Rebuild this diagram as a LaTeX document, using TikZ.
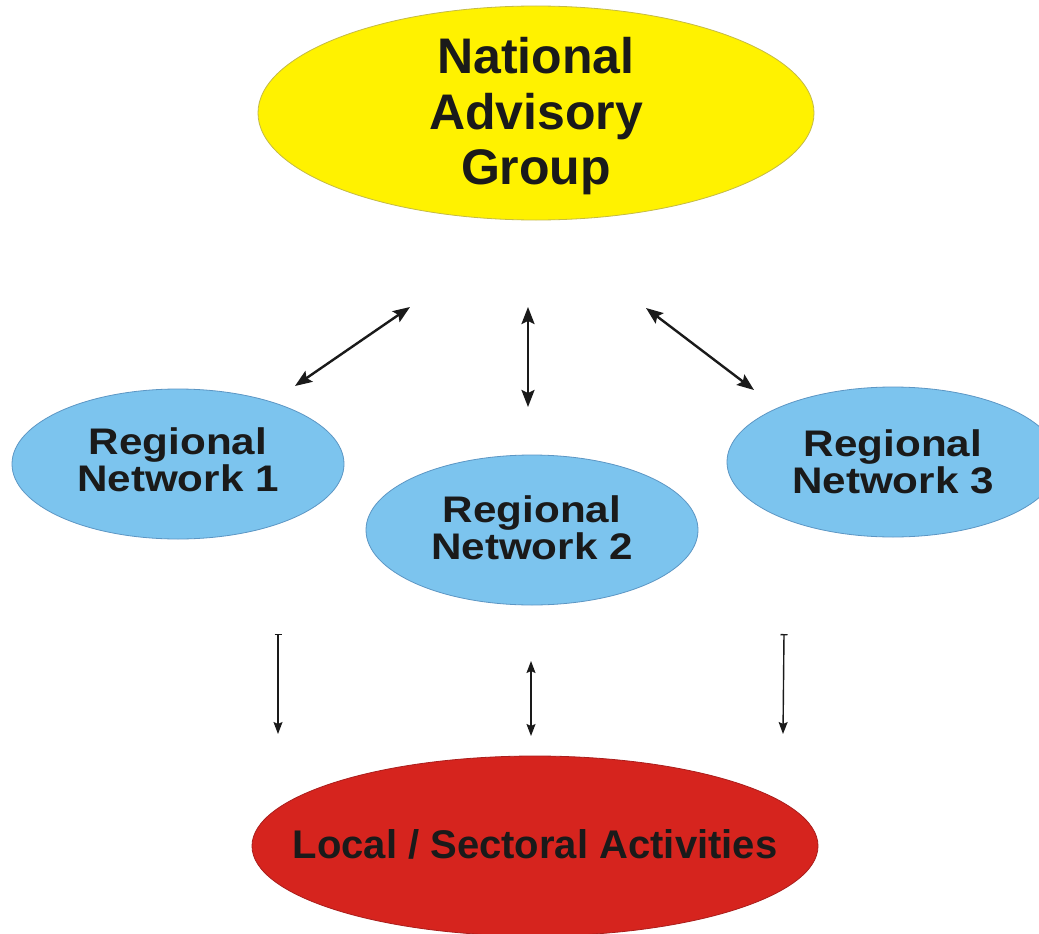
\documentclass[tikz,border=0pt]{standalone}
\usepackage{fontspec}
\setmainfont{Liberation Sans}
\newfontfamily\widefont[FakeStretch=1.14]{Liberation Sans}
\usetikzlibrary{shapes.geometric,arrows.meta}
\definecolor{nagyellow}{RGB}{255,242,0}
\definecolor{nagyellowline}{RGB}{196,186,70}
\definecolor{regblue}{RGB}{124,196,238}
\definecolor{regblueline}{RGB}{92,150,196}
\definecolor{locred}{RGB}{214,36,30}
\definecolor{locredline}{RGB}{170,30,28}
\definecolor{txt}{RGB}{26,26,26}
\tikzset{
  oval/.style={ellipse, inner sep=0pt, line width=0.8pt, text=txt, align=center},
  natoval/.style={oval, fill=nagyellow, draw=nagyellowline, minimum width=556pt, minimum height=214pt,
    inner ysep=-30pt, font=\bfseries\fontsize{50}{55.5}\selectfont},
  regoval/.style={oval, fill=regblue, draw=regblueline, minimum width=332pt, minimum height=150pt,
    font=\widefont\bfseries\fontsize{37}{37}\selectfont},
  locoval/.style={oval, fill=locred, draw=locredline, minimum width=566pt, minimum height=180pt,
    inner xsep=-60pt, font=\bfseries\fontsize{40}{40}\selectfont},
  bigarrow/.style={line width=2.4pt, draw=txt,
    {Stealth[length=17pt,width=13pt,inset=3pt]}-{Stealth[length=17pt,width=13pt,inset=3pt]}},
  smallarrow/.style={line width=1.4pt, draw=txt,
    {Stealth[length=12pt,width=9pt,inset=2pt]}-{Stealth[length=12pt,width=9pt,inset=2pt]}},
  teearrow/.style={line width=1.4pt, draw=txt,
    {Bar[width=7pt,line width=1.4pt]}-{Stealth[length=12pt,width=9pt,inset=2pt]}}
}
\begin{document}
\begin{tikzpicture}[x=1pt,y=-1pt]
\path[use as bounding box] (0,0) rectangle (1039,934);
\clip (0,0) rectangle (1039,934);
\fill[white] (0,0) rectangle (1039,934);

\node[natoval] (nag) at (536,113) {\rule{0pt}{43pt}National\\Advisory\\Group};
\node[regoval] (rn1) at (178,464) {Regional\\Network 1\rule[-8pt]{0pt}{0pt}};
\node[regoval] (rn2) at (532,530) {Regional\\Network 2\rule[-5pt]{0pt}{0pt}};
\node[regoval] (rn3) at (893,462) {Regional\\Network 3};
\node[locoval] (loc) at (535,846) {Local / Sectoral Activities\rule[-5pt]{0pt}{0pt}};

\coordinate (a1a) at (295,386); \coordinate (a1b) at (410,307);
\coordinate (a2a) at (528,307); \coordinate (a2b) at (528,407);
\coordinate (a3a) at (646,308); \coordinate (a3b) at (754,390);
\coordinate (b1a) at (278,634); \coordinate (b1b) at (278,734);
\coordinate (b2a) at (531,661); \coordinate (b2b) at (531,736);
\coordinate (b3a) at (784,634); \coordinate (b3b) at (783,734);

\draw[bigarrow] (a1a) -- (a1b);
\draw[bigarrow] (a2a) -- (a2b);
\draw[bigarrow] (a3a) -- (a3b);
\draw[teearrow] (b1a) -- (b1b);
\draw[smallarrow] (b2a) -- (b2b);
\draw[teearrow] (b3a) -- (b3b);
\end{tikzpicture}
\end{document}
